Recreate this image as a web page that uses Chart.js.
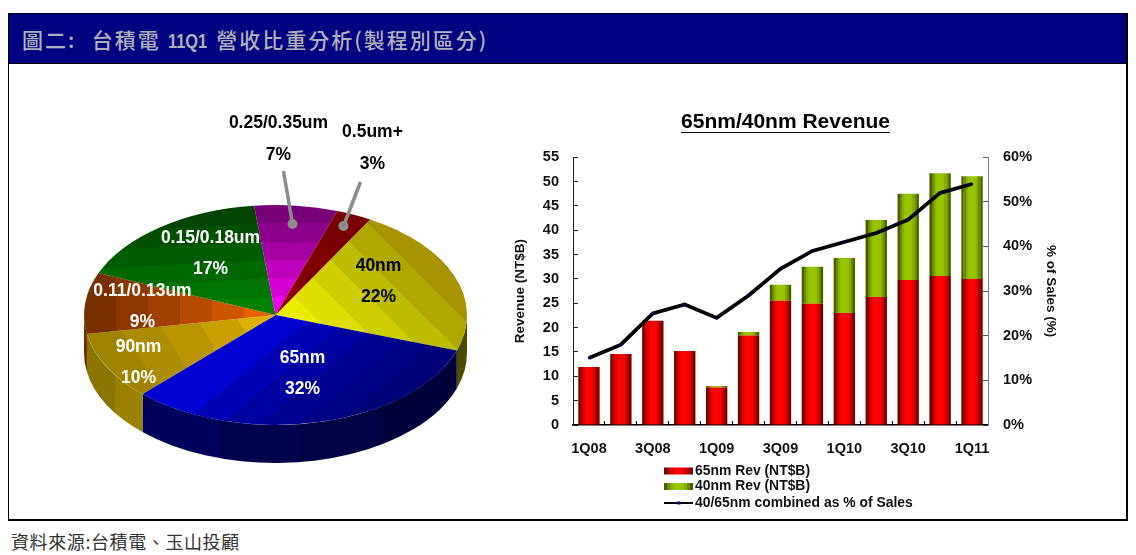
<!DOCTYPE html>
<html>
<head>
<meta charset="utf-8">
<script src="https://cdn.jsdelivr.net/npm/chart.js@4"></script>
<style>
	html, body { margin: 0; padding: 0; background: #fff; }
	body { width: 1136px; height: 555px; position: relative; overflow: hidden; }
	#frame { position: absolute; left: 8px; top: 13px; width: 1117px; height: 505px; border: 1px solid #000; border-right-width: 2px; border-bottom-width: 2px; }
	#head {
		position: absolute; left: 0; top: 0; width: 1117px; height: 49px; background: #000080;
		border-bottom: 1px solid #000; color: #b0b0b8; font: 500 21px/50px "Noto Sans CJK TC";
		white-space: pre; text-indent: 13px; letter-spacing: 2px; word-spacing: 1px;
	}
	#head b { display: inline-block; width: 40px; font: bold 21px/50px "Liberation Sans"; letter-spacing: 0; text-indent: 0; transform: scaleX(0.78); transform-origin: left; }
	#foot { position: absolute; left: 11px; top: 529px; font: 18px/24px "Noto Sans CJK TC"; color: #333; white-space: pre; letter-spacing: 0.6px; }
	canvas { position: absolute; }
	#pie { left: 55px; top: 105px; }
	#rev { left: 500px; top: 100px; }
</style>
</head>
<body>
<div id="frame"><div id="head">圖二:  台積電 <b>11Q1</b> 營收比重分析(製程別區分)</div></div>
<canvas id="pie" width="441" height="420"></canvas>
<canvas id="rev" width="571" height="420"></canvas>
<div id="foot">資料來源:台積電、玉山投顧</div>
<script>
// pie data, clockwise from the 40nm slice
const nodes = ['40nm', '65nm', '90nm', '0.11/0.13um', '0.15/0.18um', '0.25/0.35um', '0.5um+'];
const shares = [22, 32, 10, 9, 17, 7, 3];

// bar/line data
const quarters = ['1Q08', '2Q08', '3Q08', '4Q08', '1Q09', '2Q09', '3Q09', '4Q09', '1Q10', '2Q10', '3Q10', '4Q10', '1Q11'];
const rev65 = [11.9, 14.6, 21.4, 15.2, 7.7, 18.4, 25.5, 24.9, 23.0, 26.3, 29.8, 30.6, 30.0];
const rev40 = [0, 0, 0, 0, 0.3, 0.7, 3.3, 7.6, 11.3, 15.8, 17.7, 21.1, 21.1];
const pctSales = [15, 18, 25, 27, 24, 29, 35, 39, 41, 43, 46, 52, 54];

const FONT = '"Liberation Sans"';

// stepped shading, apex -> rim
const topBands = [
	['#ecec00', '#dede00', '#cece00', '#bcbc00', '#b0a800', '#a89400'],
	['#0000d0', '#0000b4', '#0000a0', '#000090', '#000084', '#000078'],
	['#dcb000', '#c8a000', '#b89400', '#ac8c00', '#a08400'],
	['#e86000', '#cc5600', '#b84a00', '#a04000', '#8a3800', '#783000'],
	['#008000', '#007400', '#006800', '#005c00', '#005000', '#004400'],
	['#f000f0', '#d400d4', '#bc00bc', '#a400a4', '#8c008c', '#780078'],
	['#880000', '#800000', '#780000']
];
const topDirs = [60, 125, 250, 270, 355, 0, 20];	// degrees clockwise from top
const sideBands = [
	['#4c4c00'],
	['#00005c', '#00004c', '#000044', '#00003a'],
	['#8c7400', '#9c8000'],
	['#6a2c00'],
	['#002000'], ['#400040'], ['#400000']
];
const SQUASH = 0.574;
const DEPTH = 38;

const redBands = ['#780000', '#a80000', '#d80000', '#f40000', '#ff0000', '#ff0000', '#f40000', '#d80000', '#a80000', '#780000'];
const greenBands = ['#486000', '#6a8a00', '#86ae00', '#94c000', '#98c400', '#98c400', '#94c000', '#86ae00', '#6a8a00', '#486000'];

function bandGradient(ctx, x0, y0, x1, y1, colors) {
	const g = ctx.createLinearGradient(x0, y0, x1, y1);
	colors.forEach((c, i) => {
		g.addColorStop(i / colors.length, c);
		g.addColorStop((i + 1) / colors.length, c);
	});
	return g;
}

function sliceFill(c) {
	const a = c.chart.chartArea;
	if (!a) return '#888';
	const cx = (a.left + a.right) / 2, cy = (a.top + a.bottom) / 2, r = 191.5;
	const t = topDirs[c.dataIndex] * Math.PI / 180;
	return bandGradient(c.chart.ctx, cx, cy, cx + r * Math.sin(t), cy - r * Math.cos(t), topBands[c.dataIndex]);
}

// label anchors relative to the pie centre
const sliceLabels = [
	{ x: 103, y: -49, color: '#000' },
	{ x: 27, y: 43, color: '#fff' },
	{ x: -137, y: 32, color: '#fff' },
	{ x: -133, y: -24, color: '#fff' },
	{ x: -65, y: -77, color: '#fff' },
	{ x: 3, y: -191.5, color: '#000', from: [8, -144], to: [17, -91] },
	{ x: 97, y: -182.5, color: '#000', from: [85, -133], to: [68, -89] }
];

const pie3d = {
	id: 'pie3d',
	beforeDatasetsDraw(chart) {
		const ctx = chart.ctx;
		const arcs = chart.getDatasetMeta(0).data;
		arcs.forEach((arc, i) => {
			const lo = Math.max(arc.startAngle, 0), hi = Math.min(arc.endAngle, Math.PI);
			if (hi <= lo) return;
			const r = arc.outerRadius, ry = r * SQUASH;
			const xa = arc.x + r * Math.cos(hi), xb = arc.x + r * Math.cos(lo);
			ctx.save();
			ctx.beginPath();
			ctx.ellipse(arc.x, arc.y, r, ry, 0, lo, hi);
			ctx.ellipse(arc.x, arc.y + DEPTH, r, ry, 0, hi, lo, true);
			ctx.closePath();
			ctx.fillStyle = bandGradient(ctx, xa, 0, xb, 0, sideBands[i]);
			ctx.fill();
			ctx.restore();
		});
		const a = arcs[0];
		ctx.save();
		ctx.translate(a.x, a.y);
		ctx.scale(1, SQUASH);
		ctx.translate(-a.x, -a.y);
	},
	afterDatasetsDraw(chart) {
		chart.ctx.restore();
		const ctx = chart.ctx;
		const a = chart.getDatasetMeta(0).data[0];
		ctx.save();
		ctx.font = 'bold 17.5px ' + FONT;
		ctx.textAlign = 'center';
		ctx.textBaseline = 'middle';
		nodes.forEach((name, i) => {
			const l = sliceLabels[i];
			if (l.from) {
				ctx.strokeStyle = '#8c8c8c';
				ctx.fillStyle = '#8c8c8c';
				ctx.lineWidth = 3.5;
				ctx.beginPath();
				ctx.moveTo(a.x + l.from[0], a.y + l.from[1]);
				ctx.lineTo(a.x + l.to[0], a.y + l.to[1]);
				ctx.stroke();
				ctx.beginPath();
				ctx.arc(a.x + l.to[0], a.y + l.to[1], 5, 0, Math.PI * 2);
				ctx.fill();
			}
			ctx.fillStyle = l.color;
			ctx.fillText(name, a.x + l.x, a.y + l.y);
			ctx.fillText(shares[i] + '%', a.x + l.x, a.y + l.y + 31.5);
		});
		ctx.restore();
	}
};

new Chart(document.getElementById('pie'), {
	type: 'pie',
	data: {
		labels: nodes,
		datasets: [{ data: shares, backgroundColor: sliceFill, borderWidth: 0 }]
	},
	options: {
		responsive: false,
		animation: false,
		rotation: 29.6,
		radius: 191.5,
		plugins: { legend: { display: false }, tooltip: { enabled: false } }
	},
	plugins: [pie3d]
});

function barFill(bands) {
	return c => {
		const s = c.chart.scales.x;
		if (!s) return bands[4];
		const x = s.getPixelForValue(c.dataIndex), w = s.width / quarters.length * 0.67;
		if (!isFinite(x) || !isFinite(w)) return bands[4];
		return bandGradient(c.chart.ctx, x - w / 2, 0, x + w / 2, 0, bands);
	};
}

// title underline plus the stacked legend under the plot
const revExtras = {
	id: 'revExtras',
	afterDraw(chart) {
		const ctx = chart.ctx;
		ctx.save();
		ctx.font = 'bold 21px ' + FONT;
		const tw = ctx.measureText(chart.options.plugins.title.text).width;
		const mid = chart.width / 2;
		ctx.fillStyle = '#000';
		ctx.fillRect(mid - tw / 2, 32, tw, 1);

		ctx.font = 'bold 13.9px ' + FONT;
		ctx.textBaseline = 'middle';
		const left = 164, w = 29, ys = [371, 386.5, 403];
		chart.data.datasets.forEach((ds, i) => {
			const y = ys[i];
			if (ds.type === 'line') {
				ctx.fillStyle = '#000';
				ctx.fillRect(left, y - 1, w, 2);
				ctx.fillStyle = '#000080';
				ctx.fillRect(left + w / 2 - 1, y - 1.5, 3, 3);
			} else {
				ctx.fillStyle = bandGradient(ctx, left, 0, left + w, 0, ds.bands);
				ctx.fillRect(left, y - 3.5, w, 7);
			}
			ctx.fillStyle = '#111';
			ctx.fillText(ds.label, 195, y);
		});
		ctx.restore();
	}
};

const tickStyle = { font: { family: FONT, size: 14.5, weight: 'bold' }, color: '#111' };

new Chart(document.getElementById('rev'), {
	type: 'bar',
	data: {
		labels: quarters,
		datasets: [
			{ label: '65nm Rev (NT$B)', data: rev65, bands: redBands, backgroundColor: barFill(redBands), order: 2, yAxisID: 'y' },
			{ label: '40nm Rev (NT$B)', data: rev40, bands: greenBands, backgroundColor: barFill(greenBands), order: 2, yAxisID: 'y' },
			{
				type: 'line', label: '40/65nm combined as % of Sales', data: pctSales, yAxisID: 'y1', order: 1,
				borderColor: '#000', borderWidth: 3.8, tension: 0,
				pointStyle: 'rectRot', pointRadius: 1.5, pointBackgroundColor: '#000080', pointBorderWidth: 0
			}
		]
	},
	options: {
		responsive: false,
		animation: false,
		barPercentage: 1,
		categoryPercentage: 0.67,
		layout: { padding: 0 },
		plugins: {
			legend: { display: false },
			tooltip: { enabled: false },
			title: {
				display: true,
				text: '65nm/40nm Revenue',
				color: '#000',
				font: { family: FONT, size: 21, weight: 'bold' },
				padding: { top: 10, bottom: 22 }
			}
		},
		scales: {
			x: {
				stacked: true,
				afterFit: s => { s.height = 95; },
				grid: { offset: true, drawOnChartArea: false, tickLength: -4, color: '#000' },
				border: { color: '#000', width: 1.5 },
				ticks: {
					...tickStyle,
					padding: 19,
					autoSkip: false,
					maxRotation: 0,
					callback: (v, i) => (i % 2 === 0 ? quarters[i] : '')
				}
			},
			y: {
				stacked: true,
				min: 0,
				max: 55,
				afterFit: s => { s.width = 73; },
				title: { display: true, text: 'Revenue (NT$B)', color: '#111', padding: { top: 12, bottom: 0 }, font: { family: FONT, size: 13.5, weight: 'bold' } },
				grid: { drawOnChartArea: false, tickLength: -5, color: '#222' },
				border: { color: '#222' },
				ticks: { ...tickStyle, stepSize: 5, padding: 19 }
			},
			y1: {
				position: 'right',
				min: 0,
				max: 60,
				afterFit: s => { s.width = 83; },
				title: { display: true, text: '% of Sales (%)', color: '#111', padding: { top: 12, bottom: 0 }, font: { family: FONT, size: 13.5, weight: 'bold' } },
				grid: { drawOnChartArea: false, tickLength: -5, color: '#555' },
				border: { color: '#808080' },
				ticks: { ...tickStyle, stepSize: 10, padding: 20, callback: v => v + '%' }
			}
		}
	},
	plugins: [revExtras]
});
</script>
</body>
</html>
